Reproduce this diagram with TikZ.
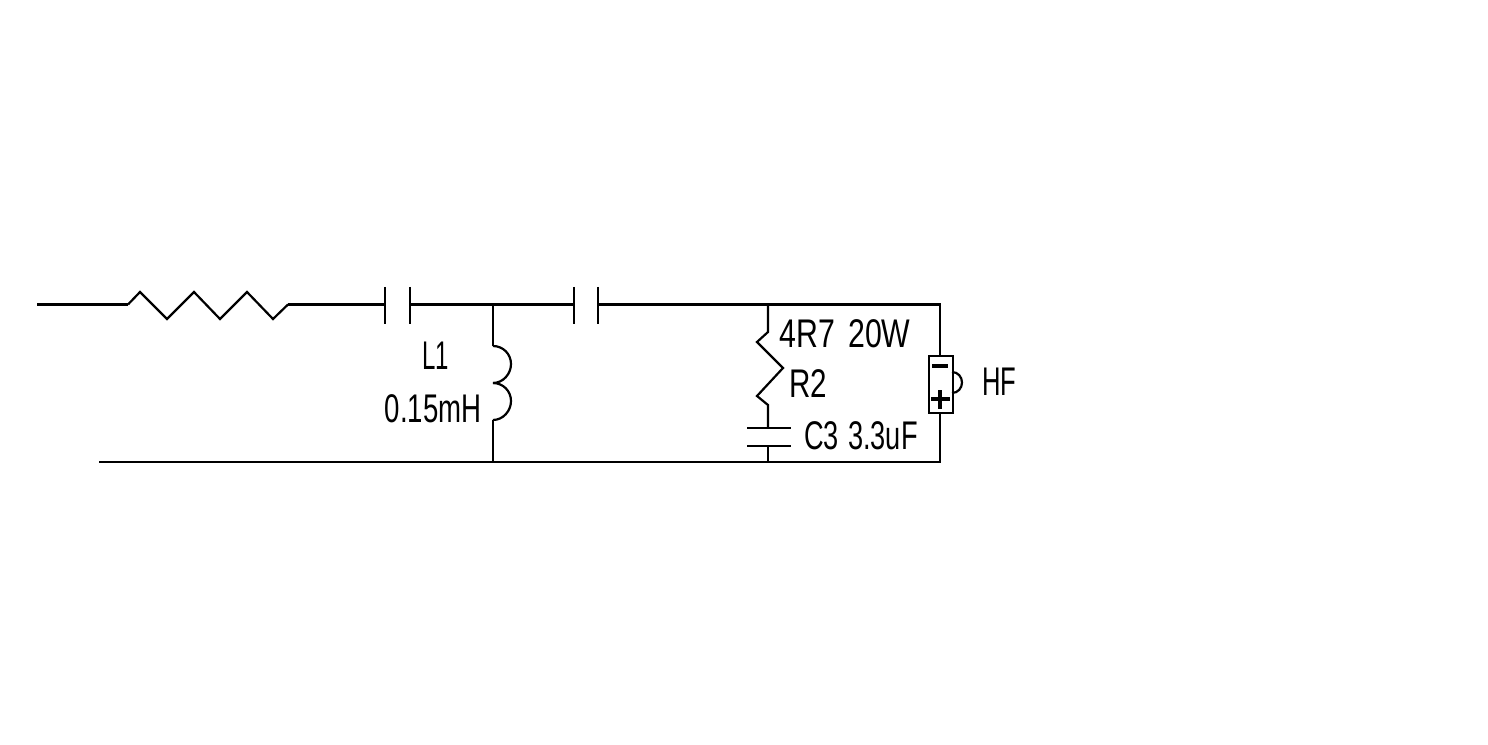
\documentclass[tikz,border=0pt]{standalone}
\usepackage{fontspec}
\setmainfont{Liberation Sans}
\tikzset{
  wire/.style={line width=1.65pt,line join=miter,line cap=butt,black},
  heavy/.style={line width=2.6pt,black},
  lbl/.style={anchor=base,inner sep=0pt,outer sep=0pt,font=\fontsize{30}{30}\selectfont,text=black},
}
\newcommand{\nar}[2]{\scalebox{#1}[1]{#2}}
\begin{document}
\begin{tikzpicture}[x=0.75pt,y=-0.75pt]
\useasboundingbox (0,0) rectangle (1488,745);
% terminals and junctions
\coordinate (inT) at (37,304.5);
\coordinate (inB) at (99,462);
\coordinate (r1a) at (128,304.5);
\coordinate (r1b) at (288,304.5);
\coordinate (c1a) at (385,304.5);
\coordinate (c1b) at (410,304.5);
\coordinate (jL) at (493,304.5);
\coordinate (jLb) at (493,462);
\coordinate (c2a) at (574,304.5);
\coordinate (c2b) at (598,304.5);
\coordinate (jR) at (768,304.5);
\coordinate (jRb) at (768,462);
\coordinate (cor) at (940,304.5);
\coordinate (corb) at (940,462);
\coordinate (la) at (493,346);
\coordinate (lm) at (493,383);
\coordinate (lb) at (493,420);
\coordinate (r2a) at (768,332);
\coordinate (r2b) at (768,405);
\coordinate (c3a) at (768,428);
\coordinate (c3b) at (768,446);
\node[draw,line width=1.65pt,minimum width=18pt,minimum height=42.75pt,inner sep=0pt,anchor=north west] (spk) at (928,355) {};
% wires
\draw[wire] (inT) -- (r1a);
\draw[wire] (r1a) -- (140,292) -- (167,319) -- (194,292) -- (220,319) -- (247,292) -- (273,319) -- (r1b);
\draw[wire] (r1b) -- (c1a);
\draw[wire] (c1b) -- (c2a);
\draw[wire] (c2b) -- (cor) -- (spk.north -| cor);
\draw[wire] (spk.south -| cor) -- (corb) -- (inB);
% capacitors
\draw[wire] (385,287) -- (385,324);
\draw[wire] (410,287) -- (410,324);
\draw[wire] (574,287) -- (574,324);
\draw[wire] (598,287) -- (598,324);
% inductor
\draw[wire] (jL) -- (la);
\draw[wire] (la) .. controls (503,346) and (511,354) .. (511,364) .. controls (511,374) and (503,383) .. (lm);
\draw[wire] (lm) .. controls (503,383) and (511,391) .. (511,401) .. controls (511,411) and (503,420) .. (lb);
\draw[wire] (lb) -- (jLb);
% R2 and C3
\draw[wire] (jR) -- (r2a) -- (757,342) -- (783,368) -- (757,396) -- (r2b) -- (c3a);
\draw[wire] (747,428) -- (791,428);
\draw[wire] (747,446) -- (791,446);
\draw[wire] (c3b) -- (jRb);
% speaker
\draw[heavy] (932,366) -- (948,366);
\draw[heavy] (931,399) -- (950,399);
\draw[heavy] (940,390) -- (940,409);
\draw[wire] (952,372) .. controls (958,372) and (962,377) .. (962,382.5) .. controls (962,388) and (958,393) .. (952,393);
% labels
\node[lbl] (tL) at (435.5,369) {\nar{0.60}{L1}};
\node[lbl] (tLv) at (433,422) {\nar{0.69}{0.15mH}};
\node[lbl] (tP) at (845,347) {\nar{0.757}{4R7\hspace{13pt}20W}};
\node[lbl] (tR) at (808.5,397) {\nar{0.74}{R2}};
\node[lbl] (tC) at (861,449) {\nar{0.68}{C3\hspace{10pt}3.3uF}};
\node[lbl] (tH) at (999.5,395) {\nar{0.64}{HF}};
\end{tikzpicture}
\end{document}
